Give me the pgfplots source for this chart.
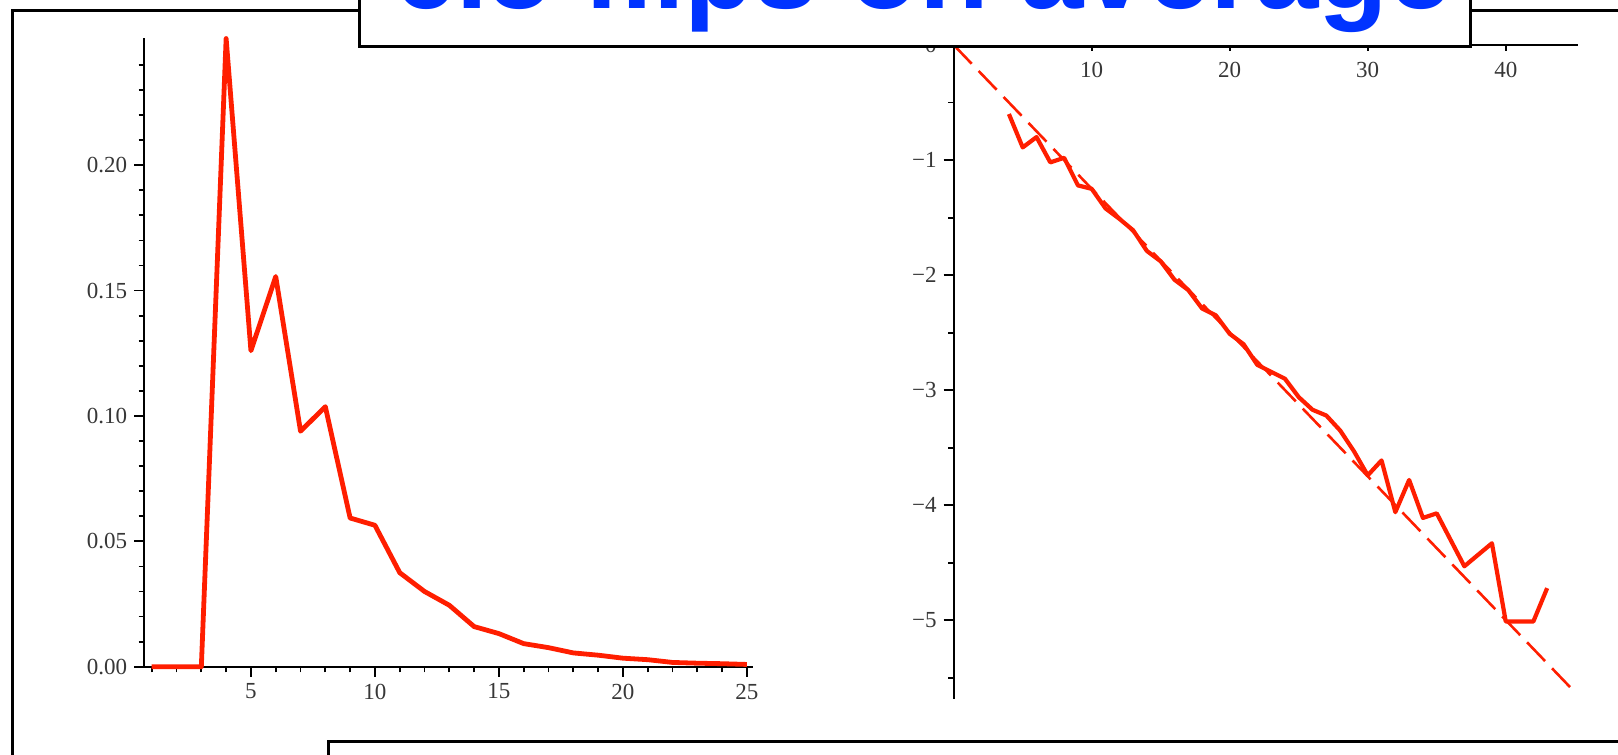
\documentclass[border=0pt]{standalone}
\usepackage{fontspec}
\setmainfont{Liberation Serif}
\newfontfamily\titlefont{Liberation Sans}
\usepackage{pgfplots}
\usepackage{pgfplotstable}
\pgfplotsset{compat=1.18}
\definecolor{plotred}{RGB}{255,30,0}
\definecolor{titleblue}{RGB}{0,51,255}
\definecolor{ticktext}{RGB}{55,55,55}

% probability of needing x flips
\pgfplotstableread{
x p
1 0
2 0
3 0
4 0.2505
5 0.1260
6 0.1556
7 0.0939
8 0.1037
9 0.0593
10 0.0564
11 0.0375
12 0.0300
13 0.0245
14 0.0160
15 0.0132
16 0.0092
17 0.0076
18 0.0055
19 0.0046
20 0.0034
21 0.0028
22 0.0017
23 0.0014
24 0.0012
25 0.0009
}\distdata

% same data, log10
\pgfplotstableread{
x lp
4 -0.60
5 -0.89
6 -0.80
7 -1.02
8 -0.98
9 -1.22
10 -1.25
11 -1.42
12 -1.51
13 -1.61
14 -1.79
15 -1.88
16 -2.04
17 -2.13
18 -2.29
19 -2.35
20 -2.51
21 -2.60
22 -2.78
23 -2.84
24 -2.90
25 -3.06
26 -3.17
27 -3.22
28 -3.35
29 -3.53
30 -3.74
31 -3.61
32 -4.06
33 -3.78
34 -4.11
35 -4.07
37 -4.53
39 -4.33
40 -5.01
42 -5.01
43 -4.72
}\logdata

\pgfplotsset{
  mapleaxis/.style={
    scale only axis,
    axis line style={line width=1pt, black},
    tick style={line width=0.9pt, black},
    tick align=outside,
    major tick length=5pt,
    minor tick length=2.8pt,
    ticklabel style={font=\fontsize{11.5}{12}\selectfont, text=ticktext},
  },
  rightbox/.style={
    at={(476.85pt,-349.3pt)}, anchor=south west,
    width=311.9pt, height=326.8pt,
    xmin=0, xmax=45.2, ymin=-5.68, ymax=0,
  }
}

\begin{document}
\begin{tikzpicture}
\useasboundingbox (0,0) rectangle (809pt,-377.5pt);
\clip (0,0) rectangle (809pt,-377.5pt);

% slide frame
\draw[line width=1.5pt] (6.25pt,-500pt) -- (6.25pt,-5pt) -- (830pt,-5pt);

% left: distribution
\begin{axis}[
  mapleaxis,
  at={(72.15pt,-333.35pt)}, anchor=south west,
  width=304.4pt, height=314.2pt,
  xmin=0.7, xmax=25.25, ymin=0, ymax=0.2506,
  axis lines*=left,
  clip=false,
  xtick={5,10,15,20,25},
  xticklabels={5,10,15,20,25},
  minor xtick={1,2,3,4,6,7,8,9,11,12,13,14,16,17,18,19,21,22,23,24},
  ytick={0,0.05,0.1,0.15,0.2},
  yticklabels={0.00,0.05,0.10,0.15,0.20},
  minor ytick={0.01,0.02,0.03,0.04,0.06,0.07,0.08,0.09,0.11,0.12,0.13,0.14,0.16,0.17,0.18,0.19,0.21,0.22,0.23,0.24},
]
\addplot[plotred, line width=2.4pt, line join=round] table[x=x, y=p] {\distdata};
\end{axis}

% right: log10 of the distribution
\begin{axis}[
  mapleaxis, rightbox,
  axis x line*=middle, axis y line*=left,
  xtick={10,20,30,40},
  xticklabels={10,20,30,40},
  xtick style={draw=none},
  ytick={0,-1,-2,-3,-4,-5},
  yticklabels={0,−1,−2,−3,−4,−5},
  minor ytick={-0.5,-1.5,-2.5,-3.5,-4.5,-5.5},
  clip=false,
]
\addplot[plotred, line width=1.3pt, dash pattern=on 13pt off 5pt] coordinates {(0,0) (44.7,-5.585)};
\addplot[plotred, line width=2.1pt, line join=round] table[x=x, y=lp] {\logdata};
\end{axis}
% short downward ticks on the top x axis
\begin{axis}[
  mapleaxis, rightbox,
  axis x line*=top, axis y line=none,
  tick align=inside, major tick length=2.8pt,
  xtick={10,20,30,40}, xticklabels={},
  ytick=\empty,
]
\end{axis}

% title box, cut off by the top edge
\draw[line width=1.5pt, fill=white] (179.5pt,30pt) rectangle (735pt,-23.35pt);
\node[anchor=base west, inner sep=0, text=titleblue,
  font=\titlefont\bfseries\fontsize{57}{60}\selectfont] at (196.5pt,-4.25pt) {6.5 flips on average};

% box at the bottom
\draw[line width=1.5pt, fill=white] (164.25pt,-370.5pt) rectangle (830pt,-420pt);
\end{tikzpicture}
\end{document}
